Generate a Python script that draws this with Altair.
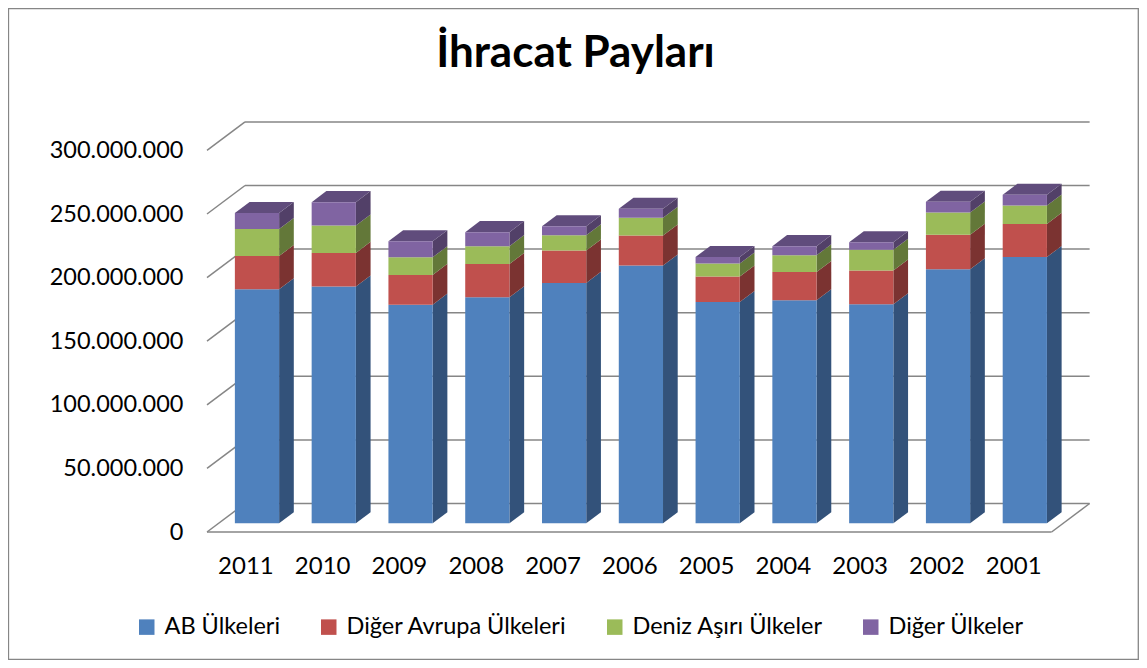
import json
import altair as alt
import pandas as pd

# ---------------- data ----------------
years = ["2011", "2010", "2009", "2008", "2007", "2006", "2005", "2004", "2003", "2002", "2001"]
series_names = ["AB Ülkeleri", "Diğer Avrupa Ülkeleri", "Deniz Aşırı Ülkeler", "Diğer Ülkeler"]
ab_ulkeleri = [184_000_000, 186_100_000, 171_900_000, 177_700_000, 189_000_000, 202_600_000,
               174_000_000, 175_400_000, 172_200_000, 199_800_000, 209_400_000]
diger_avrupa = [26_200_000, 26_500_000, 23_400_000, 26_200_000, 25_400_000, 23_600_000,
                20_000_000, 22_200_000, 26_500_000, 27_000_000, 26_000_000]
deniz_asiri = [21_100_000, 21_500_000, 13_900_000, 14_000_000, 12_100_000, 14_000_000,
               10_200_000, 13_200_000, 16_300_000, 17_500_000, 14_400_000]
diger_ulkeler = [12_600_000, 18_400_000, 12_600_000, 11_000_000, 7_100_000, 7_000_000,
                 5_200_000, 7_100_000, 6_000_000, 8_500_000, 8_500_000]
y_ticks = [0, 50_000_000, 100_000_000, 150_000_000, 200_000_000, 250_000_000, 300_000_000]

# ---------------- style ----------------
front_colors = ["#4F81BD", "#C0504D", "#9BBB59", "#8064A2"]
side_colors = ["#33527A", "#7B3331", "#637839", "#524068"]
top_color = "#604C7C"
grid_color = "#868686"
FONT = "Lato"

# 3D geometry (in scale units)
N = len(years)
BACK_X, BACK_Y = 0.495, 22_400_000      # wall depth offset
OX, OY = 0.151, 6_840_000               # bar front face offset into depth
DX, DY = 0.1915, 8_670_000              # bar depth
HW = 0.288                              # half bar width

series_vals = [ab_ulkeleri, diger_avrupa, deniz_asiri, diger_ulkeler]

front_rows, side_rows, top_rows = [], [], []
for i, yr in enumerate(years):
    base = 0
    cx = i + 0.5 + OX
    L, R = cx - HW, cx + HW
    for s, name in enumerate(series_names):
        v = series_vals[s][i]
        b, t = base + OY, base + v + OY
        front_rows.append({"x": L, "x2": R, "y": b, "y2": t, "series": name})
        key = f"k{i}_{s}"
        side_rows.append({"x": R, "lo": b, "hi": t, "k": key, "s": s})
        side_rows.append({"x": R + DX, "lo": b + DY, "hi": t + DY, "k": key, "s": s})
        base += v
    T = base + OY
    k = f"t{i}"
    top_rows += [
        {"x": L, "lo": T, "hi": T, "k": k},
        {"x": L + DX, "lo": T, "hi": T + DY, "k": k},
        {"x": R, "lo": T, "hi": T + DY, "k": k},
        {"x": R + DX, "lo": T + DY, "hi": T + DY, "k": k},
    ]

grid_rows = []
for v in y_ticks:
    grid_rows.append({"x": 0, "x2": BACK_X, "y": v, "y2": v + BACK_Y})
    grid_rows.append({"x": BACK_X, "x2": N + BACK_X, "y": v + BACK_Y, "y2": v + BACK_Y})
grid_rows.append({"x": 0, "x2": N, "y": 0, "y2": 0})
grid_rows.append({"x": N, "x2": N + BACK_X, "y": 0, "y2": BACK_Y})

front_df = pd.DataFrame(front_rows)
side_df = pd.DataFrame(side_rows)
top_df = pd.DataFrame(top_rows)
grid_df = pd.DataFrame(grid_rows)

W, H = 883, 420
PAD = {"left": 199, "top": 104, "right": 49, "bottom": 128}
xs = alt.Scale(domain=[0, 11.5], nice=False, zero=False)
ys = alt.Scale(domain=[0, 330_200_000], nice=False)

xaxis = alt.Axis(values=[i + 0.5 for i in range(N)],
                 labelExpr=f"{json.dumps(years)}[floor(datum.value)]",
                 title=None, domain=False, ticks=False, grid=False,
                 labelFont=FONT, labelFontSize=24, labelColor="#000000",
                 labelPadding=22, labelBaseline="top")
yaxis = alt.Axis(values=y_ticks, format=",.0f",
                 labelExpr="replace(datum.label, regexp(',', 'g'), '.')",
                 title=None, domain=False, ticks=False, grid=False,
                 labelFont=FONT, labelFontSize=23.5, labelColor="#000000",
                 labelPadding=24)

X = lambda f="x": alt.X(f"{f}:Q", scale=xs, axis=xaxis)
Y = lambda f="y": alt.Y(f"{f}:Q", scale=ys, axis=yaxis, stack=None)

grid = alt.Chart(grid_df).mark_rule(color=grid_color, strokeWidth=1.5).encode(
    x=X(), x2="x2:Q", y=Y(), y2="y2:Q")

side_layers = []
for s in range(len(series_names)):
    side_layers.append(
        alt.Chart(side_df).transform_filter(alt.datum.s == s)
        .mark_area(interpolate="linear", orient="vertical", color=side_colors[s], opacity=1)
        .encode(x=X(), y=Y("lo"), y2="hi:Q", detail="k:N")
    )

tops = alt.Chart(top_df).mark_area(interpolate="linear", orient="vertical",
                                   color=top_color, opacity=1).encode(
    x=X(), y=Y("lo"), y2="hi:Q", detail="k:N")

fronts = alt.Chart(front_df).mark_rect().encode(
    x=X(), x2="x2:Q", y=Y(), y2="y2:Q",
    color=alt.Color("series:N",
                    scale=alt.Scale(domain=series_names, range=front_colors),
                    legend=alt.Legend(title=None, orient="none", direction="horizontal",
                                      legendX=-72, legendY=503,
                                      symbolType="square", symbolSize=240,
                                      symbolStrokeWidth=0, symbolOpacity=1,
                                      labelFont=FONT, labelFontSize=23.5, labelColor="#000000",
                                      labelOffset=6, columnPadding=36, labelLimit=400)))

one = pd.DataFrame({"t": ["İhracat Payları"]})
title = alt.Chart(one).mark_text(font=FONT, fontSize=44, fontWeight="bold", color="#000000",
                                 align="center", baseline="alphabetic").encode(
    text="t:N", x=alt.value(368.5), y=alt.value(-45.3))

border = alt.Chart(one).mark_rect(fillOpacity=0, stroke="#868686", strokeWidth=1.3).encode(
    x=alt.value(-PAD["left"] + 0.5), x2=alt.value(W + PAD["right"] - 0.7),
    y=alt.value(-PAD["top"] + 0.5), y2=alt.value(H + PAD["bottom"] - 0.7))

chart = alt.layer(grid, *side_layers, tops, fronts, title, border).properties(
    width=W, height=H,
    autosize=alt.AutoSizeParams(type="none"),
    padding=PAD,
).configure_view(stroke=None)

chart.save("out.html", embed_options={"renderer": "svg", "actions": False})
